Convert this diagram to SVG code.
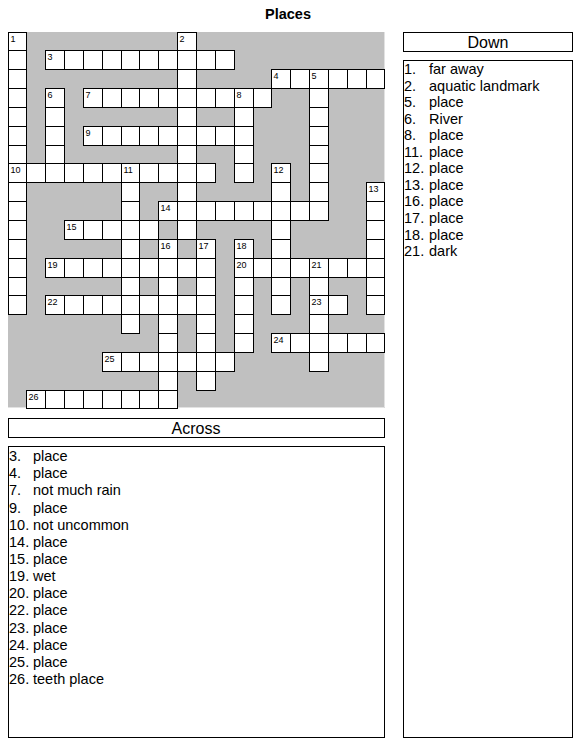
<svg xmlns="http://www.w3.org/2000/svg" width="582" height="746" viewBox="0 0 582 746">
<style>
.w{fill:#fff;stroke:#000;stroke-width:1}
.s{fill:none;stroke:#000;stroke-width:1}
.n{font-family:"Liberation Sans",Arial,sans-serif;font-size:9px;fill:#000}
.t{font-family:"Liberation Sans",Arial,sans-serif;font-size:14.5px;fill:#000}
.h{font-family:"Liberation Sans",Arial,sans-serif;font-size:16px;fill:#000;text-anchor:middle}
.box{fill:#fff;stroke:#000;stroke-width:1}
</style>
<rect width="582" height="746" fill="#fff"/>
<text id="title" x="288" y="19" text-anchor="middle" font-family="Liberation Sans, Arial, sans-serif" font-size="14.5" font-weight="bold">Places</text>
<g id="grid-bg">
<rect x="8" y="32" width="377" height="376" fill="#c0c0c0"/>
<path d="M384.5 32V407.5H8" fill="none" stroke="#e2e2e2" stroke-width="1"/>
</g>
<g id="across-words">
<g id="a3"><rect class="w" x="45.5" y="50.5" width="189" height="19"/><path class="s" d="M64.5 50.5v19M83.5 50.5v19M102.5 50.5v19M121.5 50.5v19M139.5 50.5v19M158.5 50.5v19M177.5 50.5v19M196.5 50.5v19M215.5 50.5v19"/></g>
<g id="a4"><rect class="w" x="271.5" y="69.5" width="113" height="19"/><path class="s" d="M290.5 69.5v19M309.5 69.5v19M328.5 69.5v19M347.5 69.5v19M366.5 69.5v19"/></g>
<g id="a7"><rect class="w" x="83.5" y="88.5" width="188" height="19"/><path class="s" d="M102.5 88.5v19M121.5 88.5v19M139.5 88.5v19M158.5 88.5v19M177.5 88.5v19M196.5 88.5v19M215.5 88.5v19M234.5 88.5v19M253.5 88.5v19"/></g>
<g id="a9"><rect class="w" x="83.5" y="126.5" width="170" height="19"/><path class="s" d="M102.5 126.5v19M121.5 126.5v19M139.5 126.5v19M158.5 126.5v19M177.5 126.5v19M196.5 126.5v19M215.5 126.5v19M234.5 126.5v19"/></g>
<g id="a10"><rect class="w" x="8.5" y="163.5" width="207" height="19"/><path class="s" d="M26.5 163.5v19M45.5 163.5v19M64.5 163.5v19M83.5 163.5v19M102.5 163.5v19M121.5 163.5v19M139.5 163.5v19M158.5 163.5v19M177.5 163.5v19M196.5 163.5v19"/></g>
<g id="a14"><rect class="w" x="158.5" y="201.5" width="170" height="19"/><path class="s" d="M177.5 201.5v19M196.5 201.5v19M215.5 201.5v19M234.5 201.5v19M253.5 201.5v19M271.5 201.5v19M290.5 201.5v19M309.5 201.5v19"/></g>
<g id="a15"><rect class="w" x="64.5" y="220.5" width="94" height="19"/><path class="s" d="M83.5 220.5v19M102.5 220.5v19M121.5 220.5v19M139.5 220.5v19"/></g>
<g id="a19"><rect class="w" x="45.5" y="258.5" width="170" height="19"/><path class="s" d="M64.5 258.5v19M83.5 258.5v19M102.5 258.5v19M121.5 258.5v19M139.5 258.5v19M158.5 258.5v19M177.5 258.5v19M196.5 258.5v19"/></g>
<g id="a20"><rect class="w" x="234.5" y="258.5" width="150" height="19"/><path class="s" d="M253.5 258.5v19M271.5 258.5v19M290.5 258.5v19M309.5 258.5v19M328.5 258.5v19M347.5 258.5v19M366.5 258.5v19"/></g>
<g id="a22"><rect class="w" x="45.5" y="295.5" width="170" height="19"/><path class="s" d="M64.5 295.5v19M83.5 295.5v19M102.5 295.5v19M121.5 295.5v19M139.5 295.5v19M158.5 295.5v19M177.5 295.5v19M196.5 295.5v19"/></g>
<g id="a23"><rect class="w" x="309.5" y="295.5" width="38" height="19"/><path class="s" d="M328.5 295.5v19"/></g>
<g id="a24"><rect class="w" x="271.5" y="333.5" width="113" height="19"/><path class="s" d="M290.5 333.5v19M309.5 333.5v19M328.5 333.5v19M347.5 333.5v19M366.5 333.5v19"/></g>
<g id="a25"><rect class="w" x="102.5" y="352.5" width="132" height="19"/><path class="s" d="M121.5 352.5v19M139.5 352.5v19M158.5 352.5v19M177.5 352.5v19M196.5 352.5v19M215.5 352.5v19"/></g>
<g id="a26"><rect class="w" x="26.5" y="390.5" width="151" height="18"/><path class="s" d="M45.5 390.5v18M64.5 390.5v18M83.5 390.5v18M102.5 390.5v18M121.5 390.5v18M139.5 390.5v18M158.5 390.5v18"/></g>
</g>
<g id="down-words">
<g id="d1"><rect class="w" x="8.5" y="32.5" width="18" height="282"/><path class="s" d="M8.5 50.5h18M8.5 69.5h18M8.5 88.5h18M8.5 107.5h18M8.5 126.5h18M8.5 145.5h18M8.5 163.5h18M8.5 182.5h18M8.5 201.5h18M8.5 220.5h18M8.5 239.5h18M8.5 258.5h18M8.5 277.5h18M8.5 295.5h18"/></g>
<g id="d2"><rect class="w" x="177.5" y="32.5" width="19" height="207"/><path class="s" d="M177.5 50.5h19M177.5 69.5h19M177.5 88.5h19M177.5 107.5h19M177.5 126.5h19M177.5 145.5h19M177.5 163.5h19M177.5 182.5h19M177.5 201.5h19M177.5 220.5h19"/></g>
<g id="d5"><rect class="w" x="309.5" y="69.5" width="19" height="151"/><path class="s" d="M309.5 88.5h19M309.5 107.5h19M309.5 126.5h19M309.5 145.5h19M309.5 163.5h19M309.5 182.5h19M309.5 201.5h19"/></g>
<g id="d6"><rect class="w" x="45.5" y="88.5" width="19" height="94"/><path class="s" d="M45.5 107.5h19M45.5 126.5h19M45.5 145.5h19M45.5 163.5h19"/></g>
<g id="d8"><rect class="w" x="234.5" y="88.5" width="19" height="94"/><path class="s" d="M234.5 107.5h19M234.5 126.5h19M234.5 145.5h19M234.5 163.5h19"/></g>
<g id="d11"><rect class="w" x="121.5" y="163.5" width="18" height="170"/><path class="s" d="M121.5 182.5h18M121.5 201.5h18M121.5 220.5h18M121.5 239.5h18M121.5 258.5h18M121.5 277.5h18M121.5 295.5h18M121.5 314.5h18"/></g>
<g id="d12"><rect class="w" x="271.5" y="163.5" width="19" height="151"/><path class="s" d="M271.5 182.5h19M271.5 201.5h19M271.5 220.5h19M271.5 239.5h19M271.5 258.5h19M271.5 277.5h19M271.5 295.5h19"/></g>
<g id="d13"><rect class="w" x="366.5" y="182.5" width="18" height="132"/><path class="s" d="M366.5 201.5h18M366.5 220.5h18M366.5 239.5h18M366.5 258.5h18M366.5 277.5h18M366.5 295.5h18"/></g>
<g id="d16"><rect class="w" x="158.5" y="239.5" width="19" height="169"/><path class="s" d="M158.5 258.5h19M158.5 277.5h19M158.5 295.5h19M158.5 314.5h19M158.5 333.5h19M158.5 352.5h19M158.5 371.5h19M158.5 390.5h19"/></g>
<g id="d17"><rect class="w" x="196.5" y="239.5" width="19" height="151"/><path class="s" d="M196.5 258.5h19M196.5 277.5h19M196.5 295.5h19M196.5 314.5h19M196.5 333.5h19M196.5 352.5h19M196.5 371.5h19"/></g>
<g id="d18"><rect class="w" x="234.5" y="239.5" width="19" height="113"/><path class="s" d="M234.5 258.5h19M234.5 277.5h19M234.5 295.5h19M234.5 314.5h19M234.5 333.5h19"/></g>
<g id="d21"><rect class="w" x="309.5" y="258.5" width="19" height="113"/><path class="s" d="M309.5 277.5h19M309.5 295.5h19M309.5 314.5h19M309.5 333.5h19M309.5 352.5h19"/></g>
</g>
<g id="cell-numbers" class="n">
<text x="10.5" y="42">1</text>
<text x="179.5" y="42">2</text>
<text x="47.5" y="60">3</text>
<text x="273.5" y="79">4</text>
<text x="311.5" y="79">5</text>
<text x="47.5" y="98">6</text>
<text x="85.5" y="98">7</text>
<text x="236.5" y="98">8</text>
<text x="85.5" y="136">9</text>
<text x="10.5" y="173">10</text>
<text x="123.5" y="173">11</text>
<text x="273.5" y="173">12</text>
<text x="368.5" y="192">13</text>
<text x="160.5" y="211">14</text>
<text x="66.5" y="230">15</text>
<text x="160.5" y="249">16</text>
<text x="198.5" y="249">17</text>
<text x="236.5" y="249">18</text>
<text x="47.5" y="268">19</text>
<text x="236.5" y="268">20</text>
<text x="311.5" y="268">21</text>
<text x="47.5" y="305">22</text>
<text x="311.5" y="305">23</text>
<text x="273.5" y="343">24</text>
<text x="104.5" y="362">25</text>
<text x="28.5" y="400">26</text>
</g>
<g id="down-panel">
<rect class="box" x="403.5" y="32.5" width="169" height="19"/>
<text class="h" x="488" y="48">Down</text>
<rect class="box" x="403.5" y="60.5" width="169" height="677"/>
<g class="t">
<text y="74"><tspan x="404">1.</tspan><tspan x="429">far away</tspan></text>
<text y="90.5"><tspan x="404">2.</tspan><tspan x="429">aquatic landmark</tspan></text>
<text y="107"><tspan x="404">5.</tspan><tspan x="429">place</tspan></text>
<text y="123.7"><tspan x="404">6.</tspan><tspan x="429">River</tspan></text>
<text y="140.2"><tspan x="404">8.</tspan><tspan x="429">place</tspan></text>
<text y="156.8"><tspan x="404">11.</tspan><tspan x="429">place</tspan></text>
<text y="173.3"><tspan x="404">12.</tspan><tspan x="429">place</tspan></text>
<text y="189.9"><tspan x="404">13.</tspan><tspan x="429">place</tspan></text>
<text y="206.4"><tspan x="404">16.</tspan><tspan x="429">place</tspan></text>
<text y="223"><tspan x="404">17.</tspan><tspan x="429">place</tspan></text>
<text y="239.5"><tspan x="404">18.</tspan><tspan x="429">place</tspan></text>
<text y="256"><tspan x="404">21.</tspan><tspan x="429">dark</tspan></text>
</g>
</g>
<g id="across-panel">
<rect class="box" x="8.5" y="418.5" width="376" height="19"/>
<text class="h" x="196" y="434">Across</text>
<rect class="box" x="8.5" y="446.5" width="376" height="291"/>
<g class="t">
<text y="461"><tspan x="9">3.</tspan><tspan x="33">place</tspan></text>
<text y="478.2"><tspan x="9">4.</tspan><tspan x="33">place</tspan></text>
<text y="495.3"><tspan x="9">7.</tspan><tspan x="33">not much rain</tspan></text>
<text y="512.5"><tspan x="9">9.</tspan><tspan x="33">place</tspan></text>
<text y="529.6"><tspan x="9">10.</tspan><tspan x="33">not uncommon</tspan></text>
<text y="546.8"><tspan x="9">14.</tspan><tspan x="33">place</tspan></text>
<text y="563.9"><tspan x="9">15.</tspan><tspan x="33">place</tspan></text>
<text y="581.1"><tspan x="9">19.</tspan><tspan x="33">wet</tspan></text>
<text y="598.2"><tspan x="9">20.</tspan><tspan x="33">place</tspan></text>
<text y="615.4"><tspan x="9">22.</tspan><tspan x="33">place</tspan></text>
<text y="632.5"><tspan x="9">23.</tspan><tspan x="33">place</tspan></text>
<text y="649.7"><tspan x="9">24.</tspan><tspan x="33">place</tspan></text>
<text y="666.8"><tspan x="9">25.</tspan><tspan x="33">place</tspan></text>
<text y="684"><tspan x="9">26.</tspan><tspan x="33">teeth place</tspan></text>
</g>
</g>
</svg>
